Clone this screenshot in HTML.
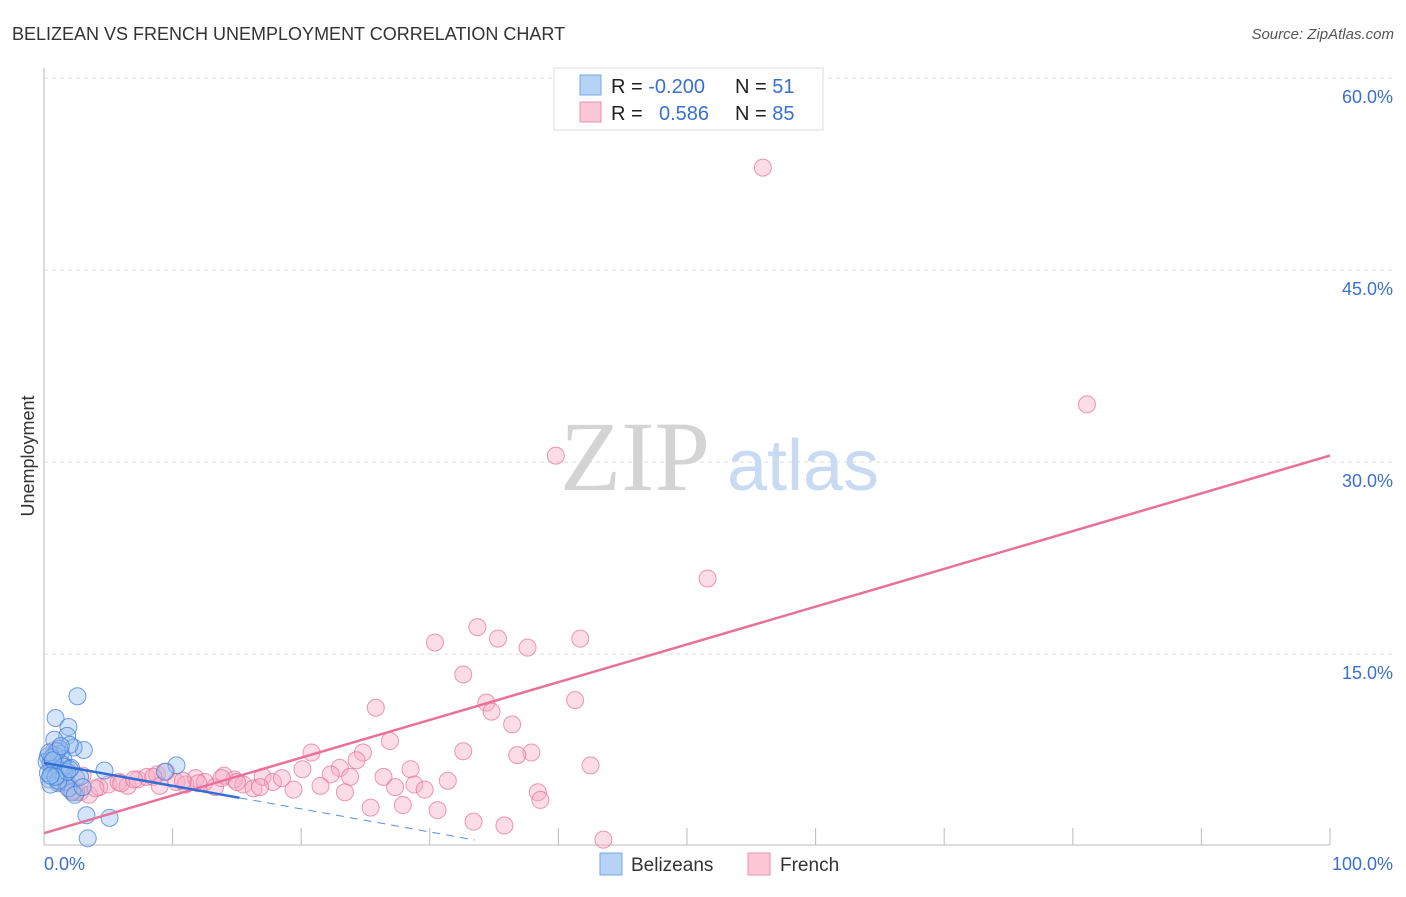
<!DOCTYPE html>
<html><head><meta charset="utf-8">
<style>
body{margin:0;background:#fff;font-family:"Liberation Sans",sans-serif;}
</style></head>
<body>
<svg id="chart" width="1406" height="892" viewBox="0 0 1406 892" font-family="Liberation Sans, sans-serif">
<text x="12" y="40" font-size="18" fill="#333">BELIZEAN VS FRENCH UNEMPLOYMENT CORRELATION CHART</text>
<text x="1394" y="39" font-size="15" fill="#555" font-style="italic" text-anchor="end">Source: ZipAtlas.com</text>
<text transform="translate(34,456) rotate(-90)" font-size="18" fill="#333" text-anchor="middle">Unemployment</text>
<g id="grid"></g>
<g>
<text x="635" y="490" font-size="100" fill="#d4d4d4" style="font-family:'Liberation Serif',serif" text-anchor="middle">ZIP</text>
<text x="803" y="490" font-size="72" fill="#c9daf3" text-anchor="middle">atlas</text>
</g>
<g id="marks"></g>
<g>
<rect x="554" y="68" width="269" height="62" fill="#fff" stroke="#ddd"/>
<rect x="580" y="75" width="21" height="20" fill="#b6d2f5" stroke="#7aa6e6"/>
<rect x="580" y="102" width="21" height="20" fill="#fbc6d6" stroke="#ee92ae"/>
<text x="611" y="93" font-size="20" fill="#222">R = <tspan fill="#3a6fd0">-0.200</tspan></text>
<text x="735" y="93" font-size="20" fill="#222">N = <tspan fill="#3a6fd0"> 51</tspan></text>
<text x="611" y="120" font-size="20" fill="#222">R = <tspan fill="#3a6fd0" x="659">0.586</tspan></text>
<text x="735" y="120" font-size="20" fill="#222">N = <tspan fill="#3a6fd0">85</tspan></text>
</g>
<g>
<rect x="600" y="853" width="22" height="22" fill="#b6d2f5" stroke="#7aa6e6"/>
<text x="631" y="871" font-size="19" fill="#333">Belizeans</text>
<rect x="748" y="853" width="22" height="22" fill="#fbc6d6" stroke="#ee92ae"/>
<text x="780" y="871" font-size="19" fill="#333">French</text>
</g>
</svg>
<script>
const yTicks=[15,30,45,60];
const yTickLabels=["15.0%","30.0%","45.0%","60.0%"];
const xTickLabels=["0.0%","100.0%"];
const blueX=[2.6,0.9,1.9,1.8,0.8,3.1,2.3,2.0,1.2,4.7,10.3,9.4,3.3,5.1,3.4,0.3,0.5,0.7,1.0,1.3,1.5,0.4,0.6,0.9,1.1,1.6,2.1,2.5,0.2,0.8,1.4,1.7,2.2,0.5,1.0,1.2,0.3,2.8,1.9,0.6,1.5,0.4,1.1,2.4,0.7,1.8,3.0,0.9,1.3,2.0,0.5];
const blueY=[11.7,10.0,9.3,8.6,8.3,7.5,7.7,7.9,7.6,5.9,6.3,5.8,2.4,2.2,0.6,7.0,6.5,6.0,5.5,7.2,6.8,5.2,5.8,6.3,4.9,5.6,6.1,5.3,6.6,7.1,6.4,5.0,4.2,4.8,7.4,5.9,5.7,5.4,4.5,6.9,6.2,7.3,5.1,4.0,6.7,5.8,4.6,5.4,7.8,6.0,5.5];
const pinkX=[55.9,81.1,39.8,51.6,33.7,30.4,35.3,37.6,41.7,32.6,34.4,34.8,41.3,25.8,36.4,26.9,20.8,24.8,32.6,37.9,36.8,24.3,42.5,20.1,23.0,28.5,22.3,23.8,26.4,31.4,27.3,21.5,28.8,29.6,38.4,23.4,38.6,25.4,27.9,30.6,33.4,35.8,43.5,19.4,0.5,1.2,2.0,2.8,3.5,4.3,5.0,5.8,6.5,7.3,8.0,8.8,9.5,10.3,11.0,11.8,12.5,13.3,14.0,14.8,15.5,16.3,17.0,17.8,18.5,1.5,2.5,3.0,4.0,6.0,7.0,8.5,9.0,10.8,12.0,13.8,15.0,16.8,0.8,1.8,2.2];
const pinkY=[53.0,34.5,30.5,20.9,17.1,15.9,16.2,15.5,16.2,13.4,11.2,10.5,11.4,10.8,9.5,8.2,7.3,7.3,7.4,7.3,7.1,6.7,6.3,6.0,6.1,6.0,5.6,5.4,5.4,5.1,4.6,4.7,4.8,4.4,4.2,4.2,3.6,3.0,3.2,2.8,1.9,1.6,0.5,4.4,6.5,5.0,4.5,4.2,4.0,4.6,4.8,5.0,4.7,5.2,5.4,5.6,5.8,5.0,4.8,5.3,5.0,4.6,5.5,5.2,4.8,4.5,5.4,5.0,5.3,5.8,4.2,5.5,4.5,4.9,5.2,5.4,4.7,5.1,4.9,5.3,5.0,4.6,7.5,6.0,4.3];
const blueLine=[6.5,-0.18], blueSolidEnd=15.2, blueDashEnd=33.5;
const pinkLine=[1.0,0.295];
const X=v=>44+v*12.86, Y=v=>846-v*12.8;
const NS="http://www.w3.org/2000/svg";
const grid=document.getElementById('grid'), marks=document.getElementById('marks');
function mk(tag,attrs,parent){const e=document.createElementNS(NS,tag);for(const k in attrs)e.setAttribute(k,attrs[k]);parent.appendChild(e);return e;}
yTicks.forEach((t,i)=>{
 const l=mk('line',{x1:44,x2:1394,y1:Y(t),y2:Y(t),stroke:'#ddd','stroke-dasharray':'4,4'},grid);
 
 
 const tx=mk('text',{x:1393,y:Y(t)+25,'font-size':18,fill:'#3a6fd0','text-anchor':'end'},grid);
 tx.textContent=yTickLabels[i];
 
 
});
const ax=mk('line',{x1:44,x2:1330,y1:845,y2:845,stroke:'#bbb'},grid);


const ay=mk('line',{x1:44,x2:44,y1:68,y2:845,stroke:'#bbb'},grid);


for(let i=1;i<=10;i++){const t=mk('line',{x1:X(i*10),x2:X(i*10),y1:828,y2:845,stroke:'#bbb'},grid);
 
 }
const xl0=mk('text',{x:44,y:870,'font-size':18,fill:'#3a6fd0'},grid);xl0.textContent=xTickLabels[0];


const xl1=mk('text',{x:1393,y:870,'font-size':18,fill:'#3a6fd0','text-anchor':'end'},grid);xl1.textContent=xTickLabels[1];


pinkX.forEach((x,i)=>{const c=mk('circle',{cx:X(x),cy:Y(pinkY[i]),r:8.5,fill:'rgba(248,170,195,0.4)',stroke:'rgba(230,110,150,0.7)','stroke-width':1},marks);
 
 });
blueX.forEach((x,i)=>{const c=mk('circle',{cx:X(x),cy:Y(blueY[i]),r:8.5,fill:'rgba(150,190,240,0.4)',stroke:'rgba(60,120,215,0.7)','stroke-width':1},marks);
 
 });
const pl=mk('line',{x1:X(0),y1:Y(pinkLine[0]),x2:X(100),y2:Y(pinkLine[0]+pinkLine[1]*100),stroke:'#e8709a','stroke-width':2.5},marks);


const bl=mk('line',{x1:X(0),y1:Y(blueLine[0]),x2:X(blueSolidEnd),y2:Y(blueLine[0]+blueLine[1]*blueSolidEnd),stroke:'#2f6fd6','stroke-width':2.5},marks);


const bd=mk('line',{x1:X(blueSolidEnd),y1:Y(blueLine[0]+blueLine[1]*blueSolidEnd),x2:X(blueDashEnd),y2:Y(blueLine[0]+blueLine[1]*blueDashEnd),stroke:'#5b8fe0','stroke-width':1,'stroke-dasharray':'8,6'},marks);


</script>
</body></html>
